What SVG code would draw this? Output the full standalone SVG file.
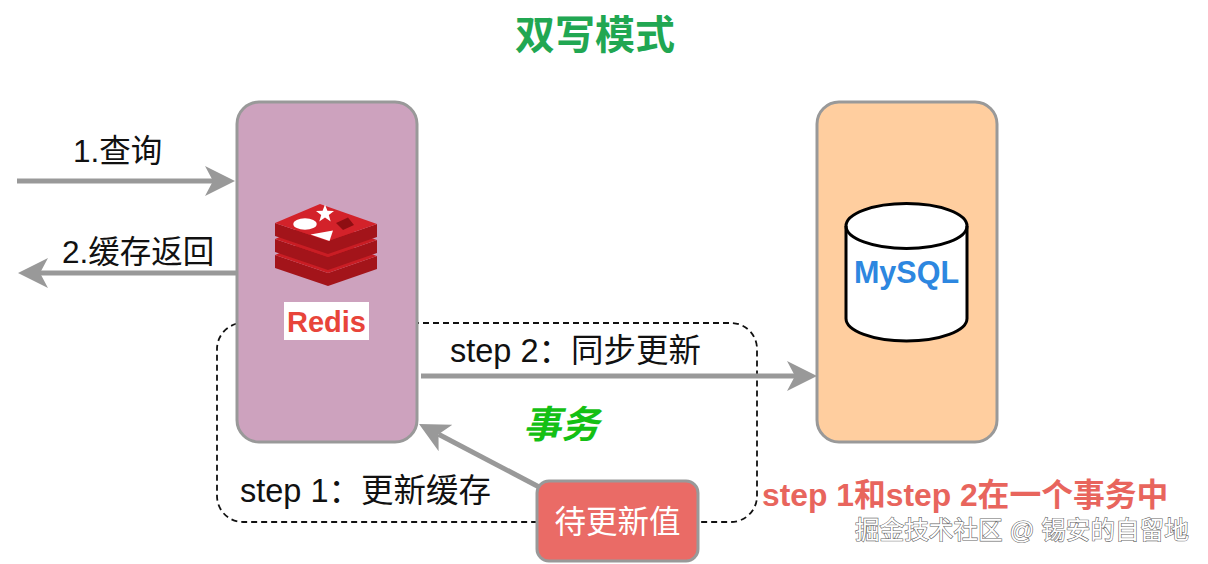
<svg xmlns="http://www.w3.org/2000/svg" width="1208" height="564" viewBox="0 0 1208 564">
<style>
.lbl{font-family:"Liberation Sans","Noto Sans CJK SC",sans-serif;font-size:31.5px;fill:#111}
.node{stroke:#999;stroke-width:3}
.edge{stroke:#999;stroke-width:5;fill:none}
.side{fill:#a3141a}
.top{fill:#c91d24}
</style>
<defs>
<marker id="arr" markerUnits="userSpaceOnUse" viewBox="0 0 30 30" markerWidth="30" markerHeight="30" refX="8" refY="15" orient="auto">
<path d="M0,0 L30,15 L0,30 L8,15 Z" fill="#999"/>
</marker>
</defs>
<rect width="1208" height="564" fill="#fff"/>
<text x="595" y="49" text-anchor="middle" style="font-family:'Liberation Sans','Noto Sans CJK SC',sans-serif;font-size:40px;font-weight:bold;fill:#21a752">双写模式</text>

<g id="transaction">
<rect x="217" y="323" width="540" height="199" rx="26" fill="none" stroke="#111" stroke-width="1.8" stroke-dasharray="6 4"/>
<text x="523" y="438" style="font-family:'Liberation Sans','Noto Sans CJK SC',sans-serif;font-size:38px;font-weight:bold;font-style:italic;fill:#14c014">事务</text>
</g>

<g id="redis">
<rect class="node" x="237" y="102" width="180" height="340" rx="22" fill="#cda2be"/>
<g id="redis-logo" stroke-linejoin="round">
<polygon class="side" points="275,255 328,273 377,256 377,269 328,286 275,268"/>
<polygon class="top" points="275,255 320,236 377,256 328,273"/>
<polygon class="side" points="275,239 328,257 377,240 377,253 328,270 275,252"/>
<polygon class="top" points="275,239 320,220 377,240 328,257"/>
<polygon class="side" points="275,223 328,241 377,224 377,237 328,254 275,236"/>
<polygon points="275,223 320,204 377,224 328,241" fill="#d3222a"/>
<ellipse cx="305" cy="224" rx="11.7" ry="5.8" fill="#fff"/>
<polygon points="325,204.5 327.4,210.8 334,211 328.8,215 330.7,221.5 325,217.6 319.3,221.5 321.2,215 316,211 322.6,210.8" fill="#fff"/>
<polygon points="310.5,234.5 333,230.5 329.5,241" fill="#fff"/>
<polygon points="336,223 348,217.5 354,225 343,230" fill="#8e0e12"/>
</g>
<rect x="284" y="302" width="85" height="38" fill="#fff"/>
<text x="326.5" y="332" text-anchor="middle" style="font-family:'Liberation Sans',sans-serif;font-size:29px;font-weight:bold;fill:#e8443a">Redis</text>
</g>

<g id="mysql">
<rect class="node" x="817" y="102" width="180" height="340" rx="22" fill="#ffce9f"/>
<path d="M846,226 L846,318.5 A60.5,22.5 0 0 0 967,318.5 L967,226 A60.5,22.5 0 0 0 846,226 Z" fill="#fff" stroke="#000" stroke-width="3"/>
<path d="M846,226 A60.5,22.5 0 0 0 967,226" fill="none" stroke="#000" stroke-width="3"/>
<text x="906.5" y="283" text-anchor="middle" style="font-family:'Liberation Sans',sans-serif;font-size:30.5px;font-weight:bold;fill:#2d87e0">MySQL</text>
</g>

<g id="connectors">
<line class="edge" x1="17" y1="181" x2="213" y2="181" marker-end="url(#arr)"/>
<line class="edge" x1="237" y1="273" x2="40" y2="273" marker-end="url(#arr)"/>
<line class="edge" x1="421" y1="376" x2="795" y2="376" marker-end="url(#arr)"/>
<line class="edge" x1="541" y1="488" x2="438.5" y2="434.2" marker-end="url(#arr)"/>
</g>

<g id="pending">
<rect class="node" x="537" y="481" width="161" height="80" rx="12" fill="#ea6b66"/>
<text x="617.5" y="533" text-anchor="middle" style="font-family:'Liberation Sans','Noto Sans CJK SC',sans-serif;font-size:31.5px;fill:#fff">待更新值</text>
</g>

<g id="labels">
<text class="lbl" x="73" y="162">1.查询</text>
<text class="lbl" x="62" y="263">2.缓存返回</text>
<text class="lbl" x="450" y="362" style="font-size:32.5px">step 2：同步更新</text>
<text class="lbl" x="240" y="502" style="font-size:32.5px">step 1：更新缓存</text>
<text x="762" y="506" style="font-family:'Liberation Sans','Noto Sans CJK SC',sans-serif;font-size:31.8px;font-weight:bold;fill:#e8655d">step 1和step 2在一个事务中</text>
<text x="855" y="539" style="font-family:'Liberation Sans','Noto Sans CJK SC',sans-serif;font-size:24.6px;fill:#fff;stroke:#666;stroke-width:1.2;paint-order:stroke">掘金技术社区 @ 锡安的自留地</text>
</g>
</svg>
